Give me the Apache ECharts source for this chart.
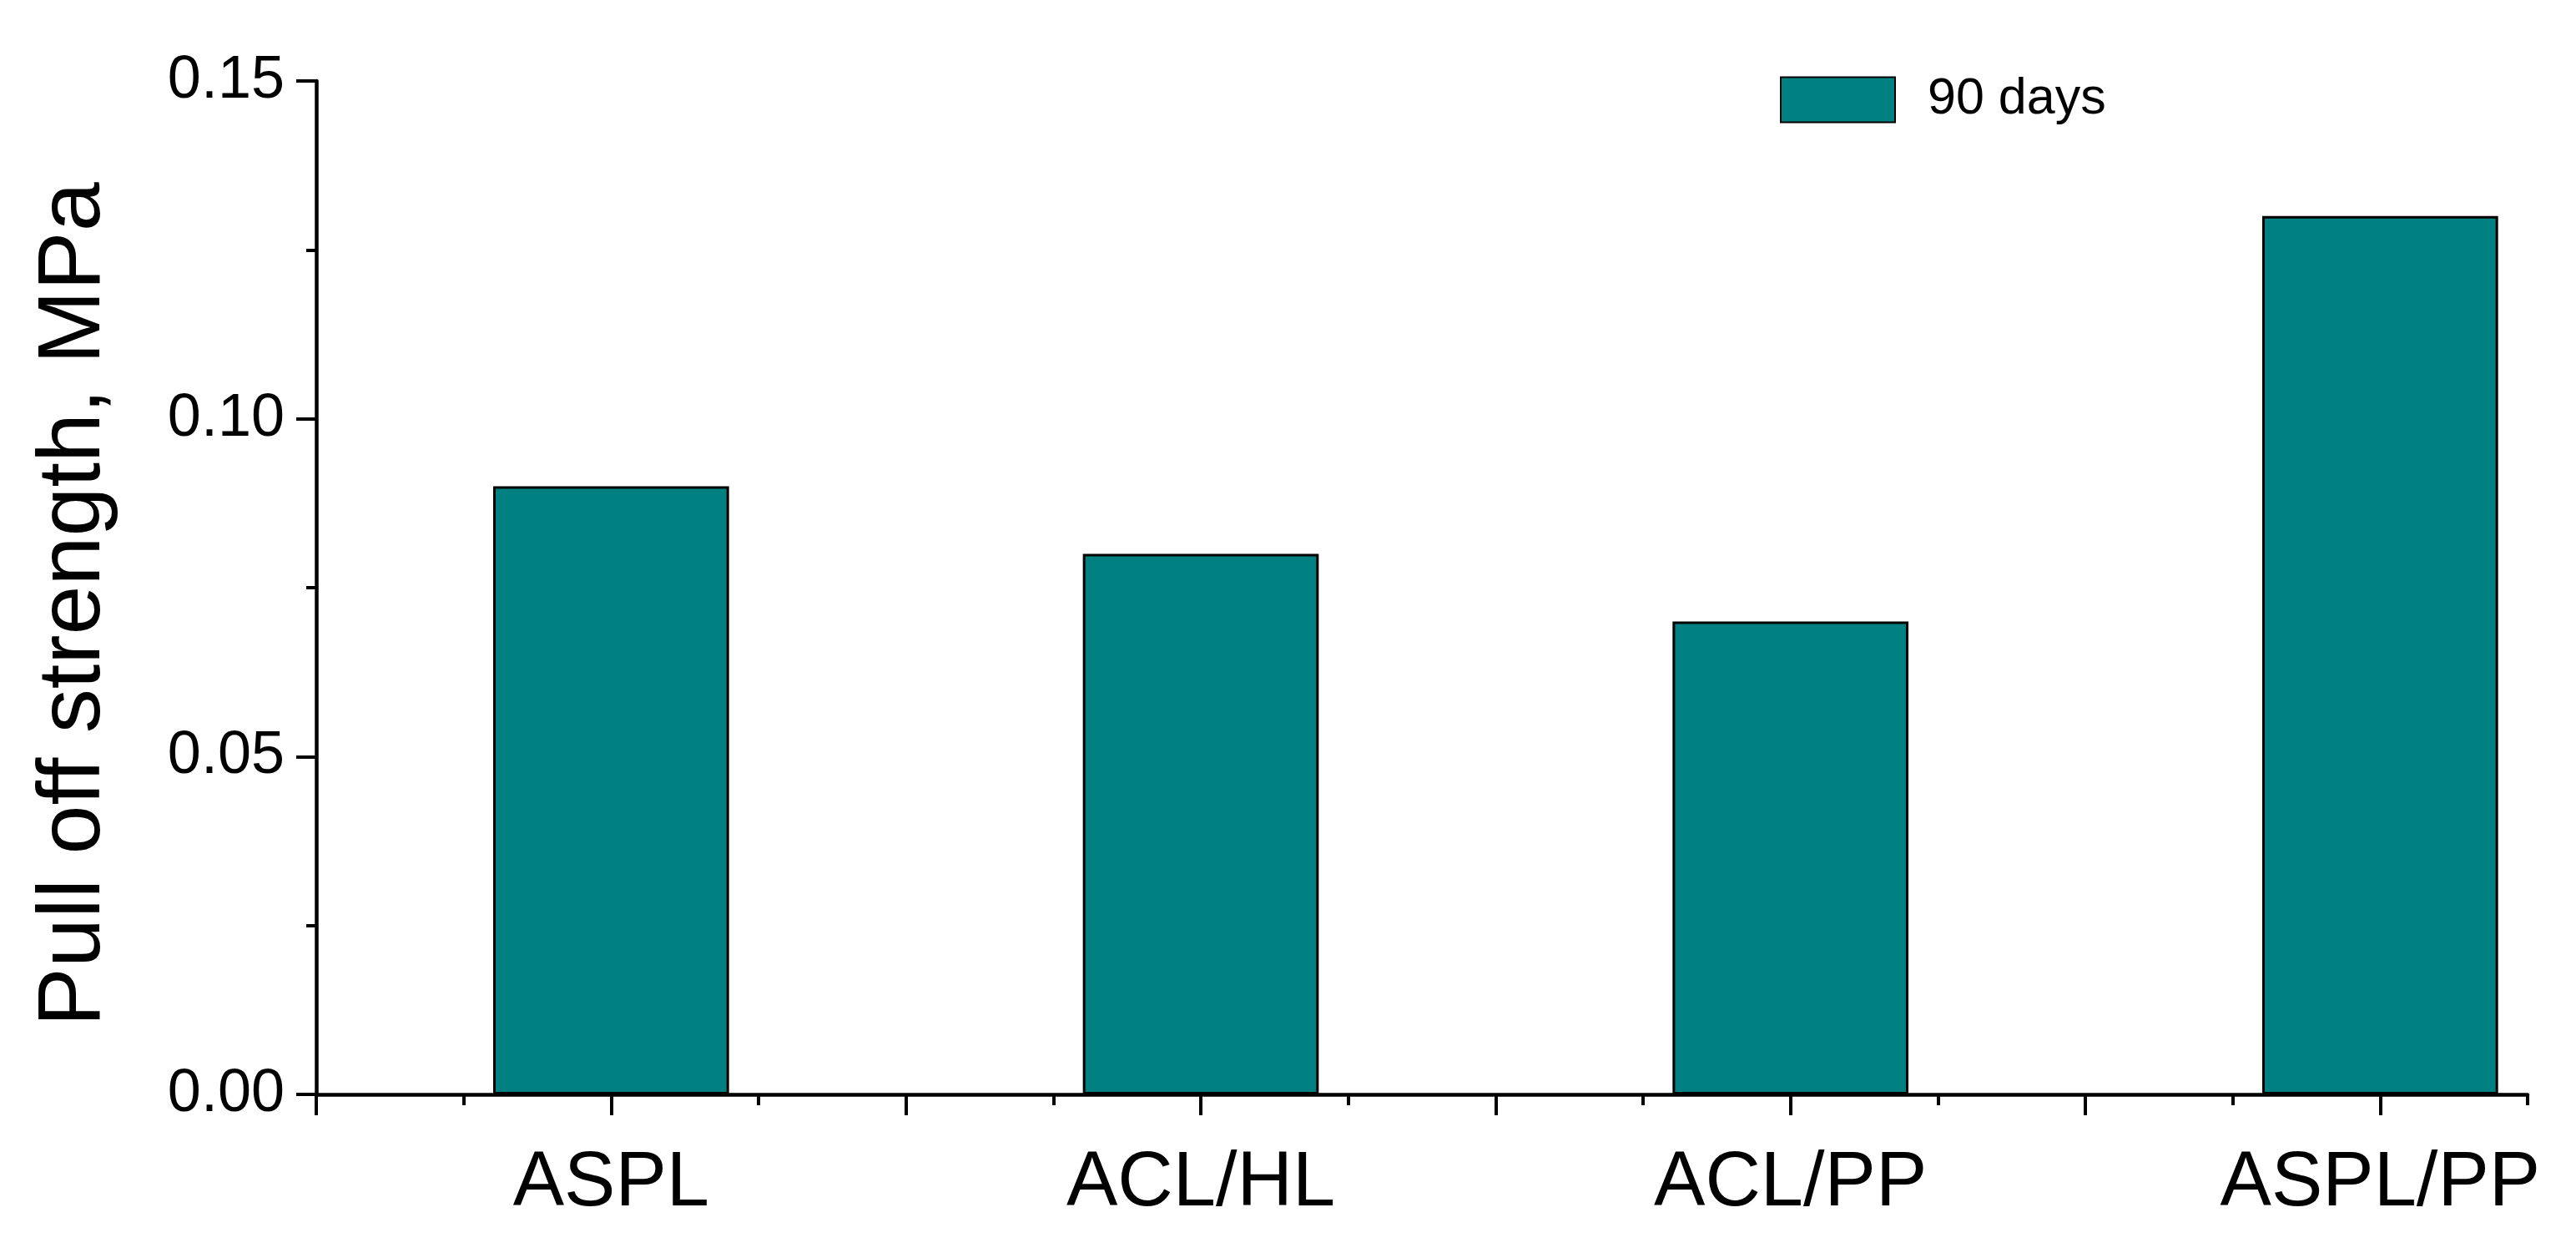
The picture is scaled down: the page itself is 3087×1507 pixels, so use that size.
<!DOCTYPE html>
<html>
<head>
<meta charset="utf-8">
<script src="https://cdn.jsdelivr.net/npm/echarts@6/dist/echarts.min.js"></script>
<style>
html,body{margin:0;padding:0;background:#fff;}
#chart{width:3087px;height:1507px;}
</style>
</head>
<body>
<div id="chart"></div>
<script>
const categories = ['ASPL', 'ACL/HL', 'ACL/PP', 'ASPL/PP'];
const values = [0.09, 0.08, 0.07, 0.13];
const seriesName = '90 days';
const yTicks = [0, 0.05, 0.10, 0.15];
const yTitle = 'Pull off strength, MPa';

const positions = categories.map((c, i) => i + 1);
const majorX = [0.5, 1, 1.5, 2, 2.5, 3, 3.5, 4];
const minorX = [0.75, 1.25, 1.75, 2.25, 2.75, 3.25, 3.75, 4.25];
const FONT = '"Liberation Sans", Arial, sans-serif';

const chart = echarts.init(document.getElementById('chart'));
chart.setOption({
  animation: false,
  backgroundColor: '#fff',
  grid: { left: 379, top: 97, width: 2650, height: 1214 },
  legend: {
    left: 2128, top: 84,
    itemWidth: 137, itemHeight: 54,
    icon: 'rect',
    data: [seriesName],
    textStyle: { fontSize: 61, color: '#000', fontFamily: FONT, padding: [0, 0, 0, 34] }
  },
  xAxis: [{
    type: 'value', min: 0.5, max: 4.25, position: 'bottom',
    axisLine: { show: true, onZero: false, lineStyle: { color: '#000', width: 4.5 } },
    axisTick: { show: true, length: 25, customValues: majorX, lineStyle: { color: '#000', width: 4 } },
    axisLabel: {
      customValues: positions, margin: 62,
      fontSize: 92, color: '#000', fontFamily: FONT,
      formatter: v => categories[Math.round(v) - 1] || ''
    },
    splitLine: { show: false }
  }, {
    type: 'value', min: 0.5, max: 4.25, position: 'bottom',
    axisLine: { show: false, onZero: false },
    axisTick: { show: true, length: 13, customValues: minorX, lineStyle: { color: '#000', width: 4 } },
    axisLabel: { show: false },
    splitLine: { show: false }
  }],
  yAxis: {
    type: 'value', min: yTicks[0], max: yTicks[yTicks.length - 1], interval: 0.05,
    name: yTitle, nameLocation: 'middle', nameRotate: 90, nameGap: 236,
    nameTextStyle: { fontSize: 106, color: '#000', fontFamily: FONT, padding: [0, 40, 0, 0] },
    axisLine: { show: true, lineStyle: { color: '#000', width: 4.5 } },
    axisTick: { show: true, length: 24, lineStyle: { color: '#000', width: 4 } },
    minorTick: { show: true, splitNumber: 2, length: 12, lineStyle: { color: '#000', width: 4 } },
    axisLabel: { margin: 38, fontSize: 72, color: '#000', fontFamily: FONT, formatter: v => v.toFixed(2) },
    splitLine: { show: false },
    minorSplitLine: { show: false }
  },
  series: [{
    name: seriesName,
    type: 'bar',
    xAxisIndex: 0,
    barWidth: '40%',
    data: positions.map((p, i) => [p, values[i]]),
    itemStyle: { color: '#008080', borderColor: '#000', borderWidth: 3 }
  }]
});
</script>
</body>
</html>
